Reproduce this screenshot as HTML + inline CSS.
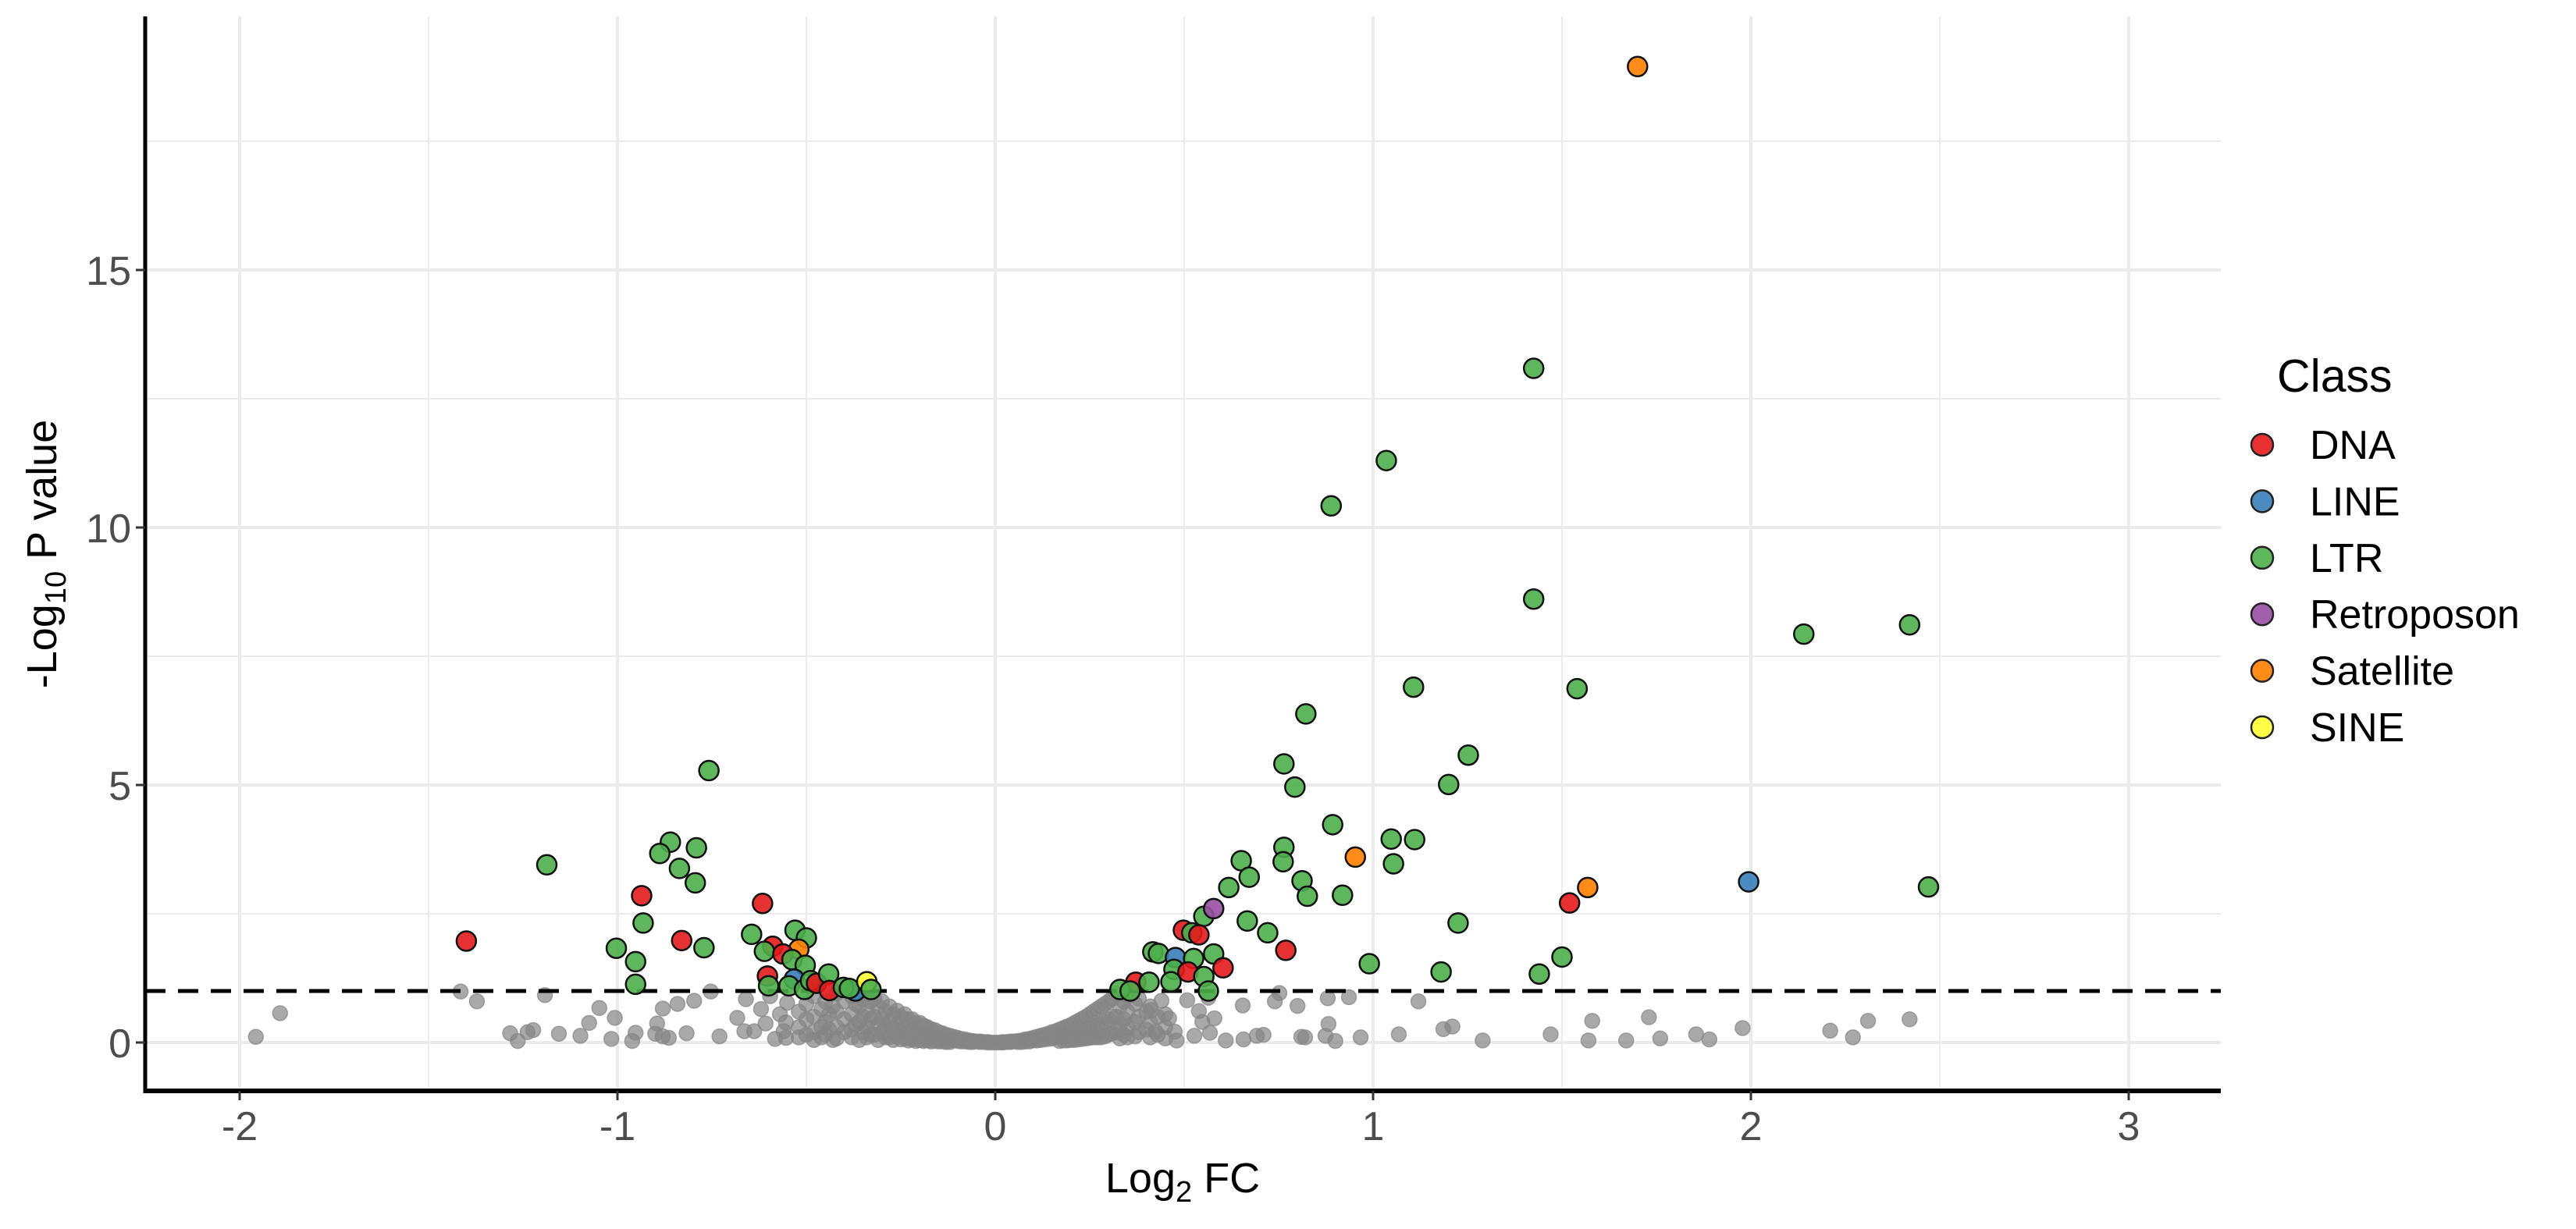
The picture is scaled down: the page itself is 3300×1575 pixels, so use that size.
<!DOCTYPE html>
<html><head><meta charset="utf-8">
<style>
html,body{margin:0;padding:0;background:#fff;}
svg{display:block;font-family:"Liberation Sans",Arial,sans-serif;}
</style></head>
<body>
<svg id="chart" width="3300" height="1575" viewBox="0 0 3300 1575" xmlns="http://www.w3.org/2000/svg">
<rect x="0" y="0" width="3300" height="1575" fill="#fff"/>
<g id="grid"></g>
<g id="greys"></g>
<g id="thresh"></g>
<g id="sigs"></g>
<g id="axes"></g>
<g id="legend"></g>
</svg>
<script>
const xTicks = [-2, -1, 0, 1, 2, 3];
const xTickLabels = ["-2", "-1", "0", "1", "2", "3"];
const yTicks = [0, 5, 10, 15];
const yTickLabels = ["0", "5", "10", "15"];
const xMinor = [-1.5, -0.5, 0.5, 1.5, 2.5];
const yMinor = [2.5, 7.5, 12.5, 17.5];
const threshold = [1];
const classes = ["DNA", "LINE", "LTR", "Retroposon", "Satellite", "SINE"];
const classColors = ["#E41A1C", "#377EB8", "#4DAF4A", "#984EA3", "#FF7F00", "#FFFF33"];

const sigPoints = [
[1.70,18.95,"Satellite"],[1.425,13.09,"LTR"],[1.035,11.30,"LTR"],[0.889,10.42,"LTR"],
[1.425,8.61,"LTR"],[2.14,7.93,"LTR"],[2.42,8.11,"LTR"],[1.107,6.90,"LTR"],[1.54,6.87,"LTR"],
[0.822,6.38,"LTR"],[1.252,5.58,"LTR"],[0.764,5.41,"LTR"],[1.20,5.01,"LTR"],[0.793,4.96,"LTR"],
[0.893,4.23,"LTR"],[1.048,3.95,"LTR"],[1.11,3.94,"LTR"],[0.764,3.79,"LTR"],[0.651,3.53,"LTR"],
[0.762,3.51,"LTR"],[0.953,3.60,"Satellite"],[1.054,3.47,"LTR"],[0.672,3.21,"LTR"],[0.812,3.14,"LTR"],
[0.618,3.01,"LTR"],[1.568,3.01,"Satellite"],[1.994,3.12,"LINE"],[2.47,3.02,"LTR"],[0.826,2.84,"LTR"],
[0.919,2.86,"LTR"],[1.52,2.71,"DNA"],[0.552,2.45,"LTR"],[0.578,2.60,"Retroposon"],[0.667,2.36,"LTR"],
[1.225,2.32,"LTR"],[0.498,2.18,"DNA"],[0.52,2.13,"LTR"],[0.539,2.09,"DNA"],[0.721,2.13,"LTR"],
[0.769,1.79,"DNA"],[0.417,1.76,"LTR"],[0.432,1.73,"LTR"],[0.477,1.65,"LINE"],[0.578,1.72,"LTR"],
[0.525,1.63,"LTR"],[0.603,1.45,"DNA"],[0.99,1.53,"LTR"],[1.50,1.66,"LTR"],[1.18,1.37,"LTR"],
[1.44,1.33,"LTR"],[0.473,1.42,"LTR"],[0.51,1.37,"DNA"],[0.552,1.28,"LTR"],[0.465,1.18,"LTR"],
[0.372,1.17,"DNA"],[0.407,1.17,"LTR"],[0.33,1.03,"LTR"],[0.357,1.00,"LTR"],[0.564,1.00,"LTR"],
[-0.758,5.28,"LTR"],[-1.187,3.45,"LTR"],[-1.40,1.97,"DNA"],[-0.86,3.89,"LTR"],[-0.888,3.67,"LTR"],
[-0.791,3.78,"LTR"],[-0.836,3.38,"LTR"],[-0.794,3.10,"LTR"],[-0.936,2.85,"DNA"],[-0.616,2.70,"DNA"],
[-0.932,2.32,"LTR"],[-1.003,1.83,"LTR"],[-0.83,1.98,"DNA"],[-0.771,1.84,"LTR"],[-0.952,1.57,"LTR"],
[-0.952,1.13,"LTR"],[-0.645,2.10,"LTR"],[-0.530,2.18,"LTR"],[-0.50,2.03,"LTR"],[-0.52,1.81,"Satellite"],
[-0.589,1.87,"DNA"],[-0.611,1.77,"LTR"],[-0.562,1.72,"DNA"],[-0.538,1.61,"LTR"],[-0.503,1.50,"LTR"],
[-0.603,1.29,"DNA"],[-0.60,1.10,"LTR"],[-0.532,1.23,"LINE"],[-0.546,1.10,"LTR"],[-0.505,1.03,"LTR"],
[-0.489,1.20,"LTR"],[-0.473,1.15,"DNA"],[-0.441,1.33,"LTR"],[-0.439,1.01,"DNA"],[-0.37,1.0,"LINE"],
[-0.402,1.07,"LTR"],[-0.386,1.05,"LTR"],[-0.340,1.18,"SINE"],[-0.329,1.03,"LTR"]
];

const greyPoints = [
[-1.957,0.11],[-1.893,0.57],[-1.415,0.99],[-1.372,0.80],[-1.192,0.92],[-1.284,0.18],[-1.264,0.03],
[-1.238,0.20],[-1.223,0.24],[-1.155,0.17],[-1.098,0.13],[-1.048,0.67],[-1.075,0.38],[-1.007,0.48],
[-1.016,0.07],[-0.961,0.03],[-0.952,0.19],[-0.895,0.37],[-0.88,0.66],[-0.841,0.75],[-0.797,0.81],
[-0.753,0.99],[-0.90,0.17],[-0.864,0.09],[-0.88,0.12],[-0.817,0.18],[-0.73,0.12],[-0.683,0.48],
[-0.664,0.22],[-0.638,0.22],[-0.66,0.84],[-0.62,0.65],[-0.608,0.37],[-0.596,0.90],[-0.583,0.07],
[-0.57,0.55],[-0.554,0.09],[-0.551,0.77],[-0.554,0.39],[-0.56,0.22],
[-0.52,0.6],[-0.52,0.3],[-0.52,0.1],[-0.50,0.75],[-0.50,0.45],[-0.50,0.15],
[-0.48,0.9],[-0.48,0.5],[-0.48,0.2],[-0.48,0.05],[-0.46,0.65],[-0.46,0.3],[-0.46,0.1],
[-0.45,0.8],[-0.45,0.4],[-0.45,0.15],[-0.44,0.55],[-0.44,0.25],[-0.43,0.7],[-0.43,0.05],
[-0.42,0.95],[-0.42,0.6],[-0.42,0.3],[-0.42,0.08],[-0.40,0.8],[-0.40,0.45],[-0.40,0.2],
[-0.38,0.9],[-0.38,0.55],[-0.38,0.25],[-0.38,0.1],[-0.37,0.75],[-0.37,0.35],
[-0.36,0.7],[-0.36,0.4],[-0.36,0.05],[-0.35,0.85],[-0.35,0.5],[-0.35,0.2],
[-0.34,0.95],[-0.34,0.6],[-0.34,0.3],[-0.34,0.1],[-0.33,0.8],[-0.33,0.45],[-0.33,0.15],
[-0.32,0.85],[-0.32,0.5],[-0.32,0.15],[-0.31,0.7],[-0.31,0.35],[-0.31,0.05],
[-0.30,0.8],[-0.30,0.45],[-0.30,0.2],[-0.29,0.6],[-0.29,0.3],[-0.29,0.1],
[-0.28,0.7],[-0.28,0.4],[-0.28,0.1],[-0.27,0.55],[-0.27,0.25],[-0.27,0.05],
[-0.26,0.62],[-0.26,0.35],[-0.26,0.12],[-0.25,0.5],[-0.25,0.22],[-0.25,0.06],
[-0.24,0.55],[-0.24,0.3],[-0.24,0.08],[-0.23,0.45],[-0.23,0.2],[-0.23,0.04],
[-0.22,0.45],[-0.22,0.25],[-0.22,0.06],[-0.21,0.38],[-0.21,0.18],[-0.21,0.03],
[-0.20,0.38],[-0.20,0.2],[-0.20,0.05],[-0.19,0.33],[-0.19,0.15],[-0.19,0.03],
[-0.18,0.3],[-0.18,0.15],[-0.18,0.04],[-0.17,0.26],[-0.17,0.12],[-0.17,0.02],
[-0.16,0.24],[-0.16,0.1],[-0.16,0.03],[-0.15,0.2],[-0.15,0.09],[-0.15,0.02],
[-0.14,0.18],[-0.14,0.08],[-0.14,0.02],[-0.13,0.15],[-0.13,0.06],[-0.13,0.01],
[-0.12,0.13],[-0.12,0.05],[-0.12,0.01],[-0.11,0.11],[-0.11,0.04],[-0.10,0.09],[-0.10,0.03],
[-0.09,0.07],[-0.09,0.02],[-0.08,0.06],[-0.08,0.02],[-0.07,0.04],[-0.07,0.01],[-0.06,0.03],[-0.06,0.01],
[-0.05,0.02],[-0.04,0.02],[-0.04,0.01],[-0.03,0.01],[-0.02,0.01],[-0.02,0.0],[-0.01,0.0],[0,0.0],
[0.01,0.0],[0.02,0.01],[0.02,0.0],[0.03,0.01],[0.04,0.02],[0.04,0.01],[0.05,0.02],
[0.06,0.03],[0.06,0.01],[0.07,0.04],[0.07,0.01],[0.08,0.06],[0.08,0.02],[0.09,0.07],[0.09,0.02],
[0.10,0.09],[0.10,0.04],[0.11,0.11],[0.11,0.04],[0.12,0.13],[0.12,0.05],[0.13,0.15],[0.13,0.06],
[0.14,0.17],[0.14,0.07],[0.15,0.2],[0.15,0.08],[0.16,0.22],[0.16,0.1],[0.17,0.25],[0.17,0.11],[0.17,0.03],
[0.18,0.28],[0.18,0.12],[0.18,0.04],[0.19,0.31],[0.19,0.14],[0.19,0.04],[0.20,0.34],[0.20,0.15],[0.20,0.05],
[0.21,0.38],[0.21,0.18],[0.21,0.05],[0.22,0.42],[0.22,0.2],[0.22,0.06],[0.23,0.46],[0.23,0.22],[0.23,0.07],
[0.24,0.5],[0.24,0.25],[0.24,0.08],[0.25,0.55],[0.25,0.28],[0.25,0.09],[0.26,0.6],[0.26,0.3],[0.26,0.1],
[0.27,0.65],[0.27,0.33],[0.27,0.1],[0.28,0.7],[0.28,0.35],[0.28,0.1],[0.29,0.75],[0.29,0.4],[0.29,0.12],
[0.30,0.8],[0.30,0.45],[0.30,0.15],[0.31,0.85],[0.31,0.5],[0.31,0.18],[0.32,0.95],[0.32,0.5],[0.32,0.2],
[0.33,0.7],[0.33,0.35],[0.33,0.08],[0.34,0.8],[0.34,0.45],[0.34,0.15],
[0.35,0.9],[0.35,0.6],[0.35,0.3],[0.35,0.1],[0.37,0.75],[0.37,0.4],[0.37,0.12],
[0.38,0.85],[0.38,0.5],[0.38,0.2],[0.40,0.6],[0.40,0.25],[0.41,0.7],[0.41,0.4],[0.41,0.1],
[0.43,0.5],[0.43,0.15],[0.45,0.55],[0.45,0.3],[0.45,0.08],
[0.752,0.96],[0.44,0.81],[0.508,0.82],[0.564,0.87],[0.655,0.72],[0.74,0.80],[0.80,0.71],[0.88,0.86],
[0.936,0.88],[1.12,0.80],[0.413,0.63],[0.46,0.47],[0.539,0.61],[0.58,0.47],[0.882,0.36],[1.58,0.42],
[1.73,0.49],[2.31,0.42],[2.42,0.45],[1.978,0.28],[2.21,0.23],[2.27,0.10],[1.186,0.26],[1.21,0.31],
[1.068,0.16],[0.967,0.10],[1.29,0.04],[1.47,0.16],[1.57,0.04],[1.67,0.04],[1.76,0.08],[1.855,0.16],
[1.89,0.06],[0.61,0.04],[0.657,0.06],[0.692,0.13],[0.71,0.15],[0.81,0.11],[0.82,0.10],[0.874,0.13],
[0.90,0.03],[0.568,0.19],[0.527,0.13],[0.548,0.40],[0.48,0.04],[0.424,0.21],[0.475,0.21]
];

const NS = "http://www.w3.org/2000/svg";
const PL = 186, PR = 2845, PT = 21, PB = 1398;
function X(v){ return 1275 + 484 * v; }
function Y(v){ return 1336 - 66 * v; }
function mk(tag, attrs, parent){
  const e = document.createElementNS(NS, tag);
  for (const k in attrs) e.setAttribute(k, attrs[k]);
  parent.appendChild(e);
  return e;
}
const grid = document.getElementById('grid');
xMinor.forEach(v => {
  const l = mk('line', {x1:X(v), x2:X(v), y1:PT, y2:PB, stroke:'#ebebeb', 'stroke-width':2}, grid);
  
  
});
yMinor.forEach(v => {
  const l = mk('line', {x1:PL, x2:PR, y1:Y(v), y2:Y(v), stroke:'#ebebeb', 'stroke-width':2}, grid);
  
  
});
xTicks.forEach(v => {
  const l = mk('line', {x1:X(v), x2:X(v), y1:PT, y2:PB, stroke:'#ebebeb', 'stroke-width':4}, grid);
  
  
});
yTicks.forEach(v => {
  const l = mk('line', {x1:PL, x2:PR, y1:Y(v), y2:Y(v), stroke:'#ebebeb', 'stroke-width':4}, grid);
  
  
});

const greys = document.getElementById('greys');
greyPoints.forEach(p => {
  const c = mk('circle', {cx:X(p[0]), cy:Y(p[1]), r:9.5, fill:'#858585', 'fill-opacity':0.7, stroke:'#858585', 'stroke-opacity':0.7, 'stroke-width':1.5}, greys);
  
  
});

const th = document.getElementById('thresh');
threshold.forEach(v => {
  const l = mk('line', {x1:PL, x2:PR, y1:Y(v), y2:Y(v), stroke:'#000', 'stroke-width':5, 'stroke-dasharray':'26 16'}, th);
  
  
});

const sigs = document.getElementById('sigs');
sigPoints.forEach(p => {
  const col = classColors[classes.indexOf(p[2])];
  const c = mk('circle', {cx:X(p[0]), cy:Y(p[1]), r:12.5, fill:col, 'fill-opacity':0.9, stroke:'#111', 'stroke-width':2.5}, sigs);
  
  
});

const axes = document.getElementById('axes');
const ya = mk('line', {x1:PL, x2:PL, y1:PT, y2:PB+3, stroke:'#000', 'stroke-width':5}, axes);


const xa = mk('line', {x1:PL-2, x2:PR, y1:PB, y2:PB, stroke:'#000', 'stroke-width':6}, axes);


xTicks.forEach((v, i) => {
  const t = mk('line', {x1:X(v), x2:X(v), y1:PB, y2:PB+12, stroke:'#333', 'stroke-width':3}, axes);
  
  
  const tx = mk('text', {x:X(v), y:1461, 'text-anchor':'middle', 'font-size':52, fill:'#4d4d4d'}, axes);
  tx.textContent = xTickLabels[i];
  
  
});
yTicks.forEach((v, i) => {
  const t = mk('line', {x1:PL-12, x2:PL, y1:Y(v), y2:Y(v), stroke:'#333', 'stroke-width':3}, axes);
  
  
  const tx = mk('text', {x:168, y:Y(v)+19, 'text-anchor':'end', 'font-size':52, fill:'#4d4d4d'}, axes);
  tx.textContent = yTickLabels[i];
  
  
});
</script>
<script>
(function(){
  const NS = "http://www.w3.org/2000/svg";
  const svg = document.getElementById('chart');
  const xt = document.createElementNS(NS, 'text');
  xt.setAttribute('x', 1515); xt.setAttribute('y', 1528);
  xt.setAttribute('text-anchor', 'middle'); xt.setAttribute('font-size', 54); xt.setAttribute('fill', '#000');
  xt.innerHTML = 'Log<tspan font-size="38" dy="12">2</tspan><tspan dy="-12"> FC</tspan>';
  
  
  svg.appendChild(xt);
  const yt = document.createElementNS(NS, 'text');
  yt.setAttribute('transform', 'translate(72,710) rotate(-90)');
  yt.setAttribute('text-anchor', 'middle'); yt.setAttribute('font-size', 54); yt.setAttribute('fill', '#000');
  yt.innerHTML = '-Log<tspan font-size="38" dy="12">10</tspan><tspan dy="-12"> P value</tspan>';
  
  
  svg.appendChild(yt);

  const lg = document.getElementById('legend');
  const title = document.createElementNS(NS, 'text');
  title.setAttribute('x', 2917); title.setAttribute('y', 502);
  title.setAttribute('font-size', 59); title.setAttribute('fill', '#000');
  title.textContent = 'Class';
  
  
  lg.appendChild(title);
  classes.forEach((c, i) => {
    const cy = 570 + 72.4 * i;
    const g = document.createElementNS(NS, 'g');
    
    
    const k = document.createElementNS(NS, 'circle');
    k.setAttribute('cx', 2898); k.setAttribute('cy', cy); k.setAttribute('r', 14);
    k.setAttribute('fill', classColors[i]); k.setAttribute('fill-opacity', 0.9);
    k.setAttribute('stroke', '#222'); k.setAttribute('stroke-width', 2.5);
    
    
    g.appendChild(k);
    const t = document.createElementNS(NS, 'text');
    t.setAttribute('x', 2959); t.setAttribute('y', cy + 18);
    t.setAttribute('font-size', 52); t.setAttribute('fill', '#000');
    t.textContent = c;
    
    
    g.appendChild(t);
    lg.appendChild(g);
  });
})();
</script>
</body></html>
